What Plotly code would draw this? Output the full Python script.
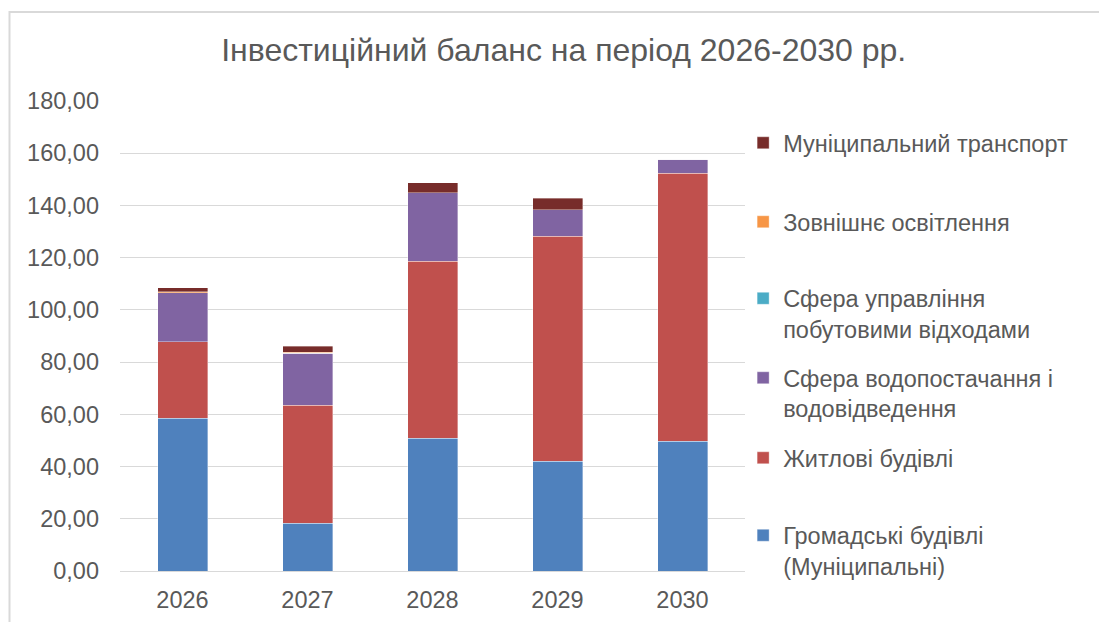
import plotly.graph_objects as go

years = ["2026", "2027", "2028", "2029", "2030"]
public_buildings = [58.5, 18.3, 50.8, 42.0, 49.7]
residential = [29.3, 45.2, 67.9, 86.2, 102.6]
water = [18.8, 19.9, 26.2, 10.1, 5.4]
waste = [0.0, 0.0, 0.0, 0.0, 0.0]
lighting = [0.4, 0.3, 0.0, 0.0, 0.0]
transport = [1.5, 2.3, 3.8, 4.5, 0.0]

series = [
    ("Громадські будівлі<br>(Муніципальні)", public_buildings, "#4F81BD"),
    ("Житлові будівлі", residential, "#C0504D"),
    ("Сфера водопостачання і<br>водовідведення", water, "#8064A2"),
    ("Сфера управління<br>побутовими відходами", waste, "#4BACC6"),
    ("Зовнішнє освітлення", lighting, "#F79646"),
    ("Муніципальний транспорт", transport, "#772C2A"),
]

# legend vertical centers (paper coords), bottom item first
legend_y = [0.0426, 0.2404, 0.3777, 0.5468, 0.7426, 0.9106]

FONT = "Liberation Sans, Arial, sans-serif"
GREY = "#595959"
FS = 23.5

fig = go.Figure()
layout_legends = {}
for i, (name, vals, col) in enumerate(series):
    lg = "legend" if i == 0 else f"legend{i+1}"
    fig.add_trace(go.Bar(
        x=years, y=vals, name=name, legend=lg, showlegend=True,
        marker=dict(color=col, line=dict(color="rgba(255,255,255,0.6)", width=0.6)),
        width=0.4,
    ))
    layout_legends[lg] = dict(
        x=0.997, xanchor="left", y=legend_y[i], yanchor="middle",
        bgcolor="rgba(0,0,0,0)", valign="top", itemwidth=30,
        font=dict(family=FONT, size=FS, color=GREY),
    )

fig.update_layout(
    barmode="stack",
    showlegend=True,
    width=1107, height=622,
    margin=dict(l=112, r=370, t=93, b=59),
    paper_bgcolor="white", plot_bgcolor="white",
    separators=", ",
    title=dict(
        text="Інвестиційний баланс на період 2026-2030 рр.",
        x=0.502, xanchor="center", xref="container",
        y=0.9325, yanchor="middle", yref="container",
        font=dict(family=FONT, size=32, color=GREY),
    ),
    xaxis=dict(
        showgrid=False, showline=False, zeroline=False,
        tickfont=dict(family=FONT, size=FS, color=GREY),
        ticks="", ticklabelstandoff=12,
    ),
    yaxis=dict(
        range=[0, 180], tickvals=[0, 20, 40, 60, 80, 100, 120, 140, 160, 180],
        tickformat=".2f",
        showgrid=True, gridcolor="#D9D9D9", gridwidth=1,
        zeroline=True, zerolinecolor="#D9D9D9", zerolinewidth=1,
        showline=False, ticks="", ticklabelstandoff=20,
        tickfont=dict(family=FONT, size=FS, color=GREY),
    ),
    **layout_legends,
)

# chart-area border
fig.add_shape(
    type="rect", xref="paper", yref="paper",
    x0=(9.5 - 120) / 625, x1=(1125 - 120) / 625,
    y0=-(640 - 571) / 470, y1=1 + (101 - 12) / 470,
    line=dict(color="#D9D9D9", width=2), fillcolor="rgba(0,0,0,0)", layer="below",
)

fig.write_html("out.html")
